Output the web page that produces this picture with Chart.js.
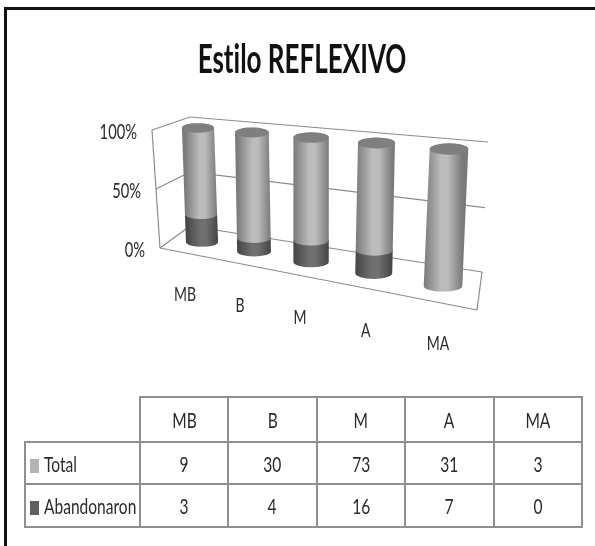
<!DOCTYPE html>
<html>
<head>
<meta charset="utf-8">
<script src="https://cdn.jsdelivr.net/npm/chart.js@4"></script>
<style>
  body { margin: 0; background: #fff; }
  #wrap { position: relative; width: 595px; height: 546px; overflow: hidden; filter: blur(0.4px); }
  #frame { position: absolute; left: 4px; top: 7px; width: 600px; height: 560px; border-left: 3px solid #111; border-top: 3px solid #111; box-sizing: border-box; }
  canvas { position: absolute; left: 0; top: 0; }
  table { position: absolute; left: 24px; top: 396px; border-collapse: collapse; table-layout: fixed; width: 557px;
    font: 21px Lato, sans-serif; color: #2a2a2a; }
  td { border: 2px solid #8f8f8f; text-align: center; padding: 0; box-sizing: border-box; }
  td.blank { border-top: none; border-left: none; }
  td.name { text-align: left; padding-left: 4px; white-space: nowrap; }
  td span.t { display: inline-block; transform: scaleX(0.74); }
  td.name span.t { transform-origin: left center; }
  .key { display: inline-block; width: 9px; height: 14px; margin-right: 5px; vertical-align: -1px; }
</style>
</head>
<body>
<div id="wrap">
  <div id="frame"></div>
  <canvas id="chart" width="595" height="546"></canvas>
  <table id="dataTable"></table>
</div>
<script>
const categories = ["MB", "B", "M", "A", "MA"];
const total = [9, 30, 73, 31, 3];
const abandonaron = [3, 4, 16, 7, 0];
const yTicks = [0, 50, 100];
const yTickLabels = ["0%", "50%", "100%"];
const chartTitle = "Estilo REFLEXIVO";

// share of each column, the chart is a 100% stacked one
const pctTotal = total.map((v, i) => (v / (v + abandonaron[i])) * 100);
const pctAbandonaron = abandonaron.map((v, i) => (v / (total[i] + v)) * 100);

// unit square -> quad, [p00, p10, p11, p01]
function makeProjection(q) {
  const [p0, p1, p2, p3] = q;
  const dx1 = p1[0] - p2[0], dx2 = p3[0] - p2[0], sx = p0[0] - p1[0] + p2[0] - p3[0];
  const dy1 = p1[1] - p2[1], dy2 = p3[1] - p2[1], sy = p0[1] - p1[1] + p2[1] - p3[1];
  const den = dx1 * dy2 - dx2 * dy1;
  const g = (sx * dy2 - dx2 * sy) / den;
  const h = (dx1 * sy - sx * dy1) / den;
  const a = p1[0] - p0[0] + g * p1[0], b = p3[0] - p0[0] + h * p3[0];
  const d = p1[1] - p0[1] + g * p1[1], e = p3[1] - p0[1] + h * p3[1];
  return (u, v) => {
    const w = g * u + h * v + 1;
    return [(a * u + b * v + p0[0]) / w, (d * u + e * v + p0[1]) / w];
  };
}

// plane through the column centres (u .1 to .9) and the back wall of the box
const columnPlane = makeProjection([[202, 242], [443, 286], [449, 149], [198, 128]]);
const backWall = makeProjection([[190, 226], [482, 272], [488, 142], [190, 117]]);
const frontLeft = (v) => [160 - 8 * v, 248 - 118 * v];

function line(ctx, a, b) {
  ctx.beginPath();
  ctx.moveTo(a[0], a[1]);
  ctx.lineTo(b[0], b[1]);
  ctx.stroke();
}

// no condensed font is installed, so squeeze the text sideways
function narrowText(ctx, text, x, y, font, scaleX, align) {
  ctx.save();
  ctx.font = font;
  ctx.letterSpacing = "0.01px"; // stops the Lato "ti" ligature
  ctx.textAlign = align;
  ctx.textBaseline = "middle";
  ctx.translate(x, y);
  ctx.scale(scaleX, 1);
  ctx.fillText(text, 0, 0);
  ctx.restore();
}

function cylGradient(ctx, x0, x1, edge, mid) {
  const g = ctx.createLinearGradient(x0, 0, x1, 0);
  g.addColorStop(0, edge);
  g.addColorStop(0.45, mid);
  g.addColorStop(0.62, mid);
  g.addColorStop(1, edge);
  return g;
}

const box3d = {
  id: "box3d",
  beforeDatasetsDraw(chart) {
    const { ctx, chartArea: ca, scales } = chart;
    ctx.save();
    ctx.fillStyle = "#111";
    narrowText(ctx, chartTitle, 302, 60, "bold 40px Lato, sans-serif", 0.65, "center");
    ctx.strokeStyle = "#8c8c8c";
    ctx.lineWidth = 1.2;
    ctx.fillStyle = "#2a2a2a";
    yTicks.forEach((t, i) => {
      const v = (ca.bottom - scales.y.getPixelForValue(t)) / ca.height;
      const a = frontLeft(v);
      const b = backWall(0, v);
      const c = backWall(1, v);
      line(ctx, a, b);
      line(ctx, b, c);
      narrowText(ctx, yTickLabels[i], a[0] - 15, a[1] + 2, "21px Lato, sans-serif", 0.7, "right");
    });
    // left edge, front of the floor, right side of the floor
    line(ctx, frontLeft(0), frontLeft(1));
    const fr = [477, 310];
    line(ctx, frontLeft(0), fr);
    line(ctx, backWall(1, 0), fr);
    ctx.restore();
  },
  afterDatasetsDraw(chart) {
    const { ctx, chartArea: ca } = chart;
    const low = chart.getDatasetMeta(0).data;
    const high = chart.getDatasetMeta(1).data;
    ctx.save();
    categories.forEach((name, i) => {
      const u = ((low[i].x - ca.left) / ca.width - 0.1) / 0.8;
      const toV = (y) => (ca.bottom - y) / ca.height;
      // columns get a bit wider towards the viewer
      const rx = (low[i].width / 2) * (1 + 0.2 * u);

      const ring = (y) => {
        const c = columnPlane(u, toV(y));
        return { x: c[0], y: c[1], rx: rx, ry: rx * 0.3 };
      };
      const segment = (a, b, edge, mid) => {
        ctx.beginPath();
        ctx.ellipse(a.x, a.y, a.rx, a.ry, 0, Math.PI, 0, true);
        ctx.lineTo(b.x + b.rx, b.y);
        ctx.ellipse(b.x, b.y, b.rx, b.ry, 0, 0, Math.PI, true);
        ctx.closePath();
        ctx.fillStyle = cylGradient(ctx, a.x - a.rx, a.x + a.rx, edge, mid);
        ctx.fill();
      };

      const r0 = ring(low[i].base);
      const r1 = ring(low[i].y);
      const r2 = ring(high[i].y);
      if (abandonaron[i] > 0) segment(r0, r1, "#454545", "#707070");
      segment(r1, r2, "#7a7a7a", "#bcbcbc");
      ctx.beginPath();
      ctx.ellipse(r2.x, r2.y, r2.rx, r2.ry, 0, 0, Math.PI * 2);
      ctx.fillStyle = "#7f7f7f";
      ctx.fill();

      // category labels run along the floor
      ctx.fillStyle = "#2a2a2a";
      narrowText(ctx, name, r0.x - 17 + 12 * u, r0.y + 53 + 5 * u, "20px Lato, sans-serif", 0.7, "center");
    });
    ctx.restore();
  },
};

new Chart(document.getElementById("chart"), {
  type: "bar",
  data: {
    labels: categories,
    datasets: [
      { label: "Abandonaron", data: pctAbandonaron, backgroundColor: "rgba(0,0,0,0)" },
      { label: "Total", data: pctTotal, backgroundColor: "rgba(0,0,0,0)" },
    ],
  },
  options: {
    responsive: false,
    animation: false,
    layout: { padding: { left: 150, right: 110, top: 120, bottom: 230 } },
    datasets: { bar: { barPercentage: 0.48, categoryPercentage: 1 } },
    scales: {
      x: { stacked: true, display: false },
      y: { stacked: true, display: false, min: 0, max: 100 },
    },
    plugins: {
      legend: { display: false },
      tooltip: { enabled: false },
      title: { display: false },
    },
  },
  plugins: [box3d],
});

// data table under the chart
const rows = [
  { name: "Total", color: "#b4b4b4", values: total },
  { name: "Abandonaron", color: "#5f5f5f", values: abandonaron },
];
const cell = (s) => '<td><span class="t">' + s + "</span></td>";
let html = '<colgroup><col style="width:115px">' + categories.map(() => '<col style="width:88.4px">').join("") + "</colgroup>";
html += '<tr style="height:45px"><td class="blank"></td>' + categories.map(cell).join("") + "</tr>";
rows.forEach((r, i) => {
  html += '<tr style="height:' + (i ? 43 : 42) + 'px"><td class="name"><span class="key" style="background:' + r.color + '"></span><span class="t">' + r.name + "</span></td>";
  html += r.values.map(cell).join("") + "</tr>";
});
document.getElementById("dataTable").innerHTML = html;
</script>
</body>
</html>
